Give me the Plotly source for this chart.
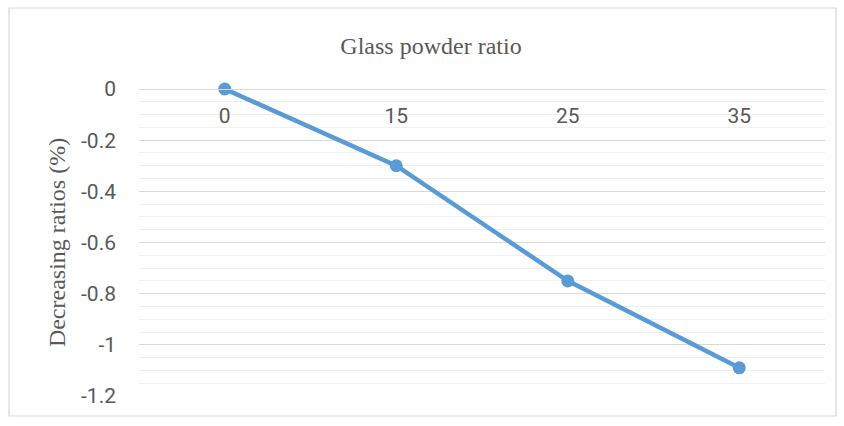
import plotly.graph_objects as go

# Glass powder replacement ratio (%) and corresponding decrease (%)
glass_ratio = ["0", "15", "25", "35"]
decrease = [0.0, -0.3, -0.75, -1.09]

y_ticks = [0, -0.2, -0.4, -0.6, -0.8, -1, -1.2]

W, H = 844, 426
ml, mr, mt, mb = 139, 19, 89, 30
pw, ph = W - ml - mr, H - mt - mb

serif = "Liberation Serif, Times New Roman, serif"
sans = "Roboto, Lato, sans-serif"
tick_size = 21

fig = go.Figure()
fig.add_trace(go.Scatter(
    x=glass_ratio,
    y=decrease,
    mode="lines+markers",
    line=dict(color="#5B9BD5", width=4.5),
    marker=dict(color="#5B9BD5", size=13),
    showlegend=False,
    cliponaxis=False,
))

fig.update_layout(
    width=W,
    height=H,
    margin=dict(l=ml, r=mr, t=mt, b=mb),
    paper_bgcolor="white",
    plot_bgcolor="white",
    font=dict(family=sans, size=tick_size, color="#595959"),
    title=dict(
        text="Glass powder ratio",
        font=dict(family=serif, size=24, color="#595959"),
        x=431 / W, xanchor="center",
        y=1 - 46 / H, yanchor="middle",
    ),
    # category axis crosses at y = 0 (top of plot), labels hang below it
    xaxis=dict(
        type="category",
        side="bottom",
        anchor="free",
        position=1,
        range=[-0.5, 3.5],
        ticks="",
        showgrid=False,
        showline=True,
        linecolor="#D9D9D9",
        linewidth=1,
        ticklabelstandoff=8,
        tickfont=dict(family=sans, size=tick_size, color="#595959"),
    ),
    yaxis=dict(
        range=[-1.2, 0],
        tickvals=y_ticks,
        ticktext=[f"{v:g}" for v in y_ticks],
        ticks="",
        showline=False,
        zeroline=False,
        gridcolor="#D9D9D9",
        gridwidth=1,
        minor=dict(dtick=0.05, showgrid=True, gridcolor="#F0F0F0", gridwidth=1),
        ticklabelstandoff=22,
        tickfont=dict(family=sans, size=tick_size, color="#595959"),
        title=dict(
            text="Decreasing ratios (%)",
            font=dict(family=serif, size=24, color="#595959"),
            standoff=8,
        ),
    ),
)

# Outer chart border
fig.add_shape(
    type="rect",
    xref="paper", yref="paper",
    x0=(9 - ml) / pw, x1=(836 - ml) / pw,
    y0=(H - mb - 416) / ph, y1=(H - mb - 8) / ph,
    line=dict(color="#D9D9D9", width=1.2),
    fillcolor="rgba(0,0,0,0)",
    layer="below",
)

fig.write_html("out.html")
